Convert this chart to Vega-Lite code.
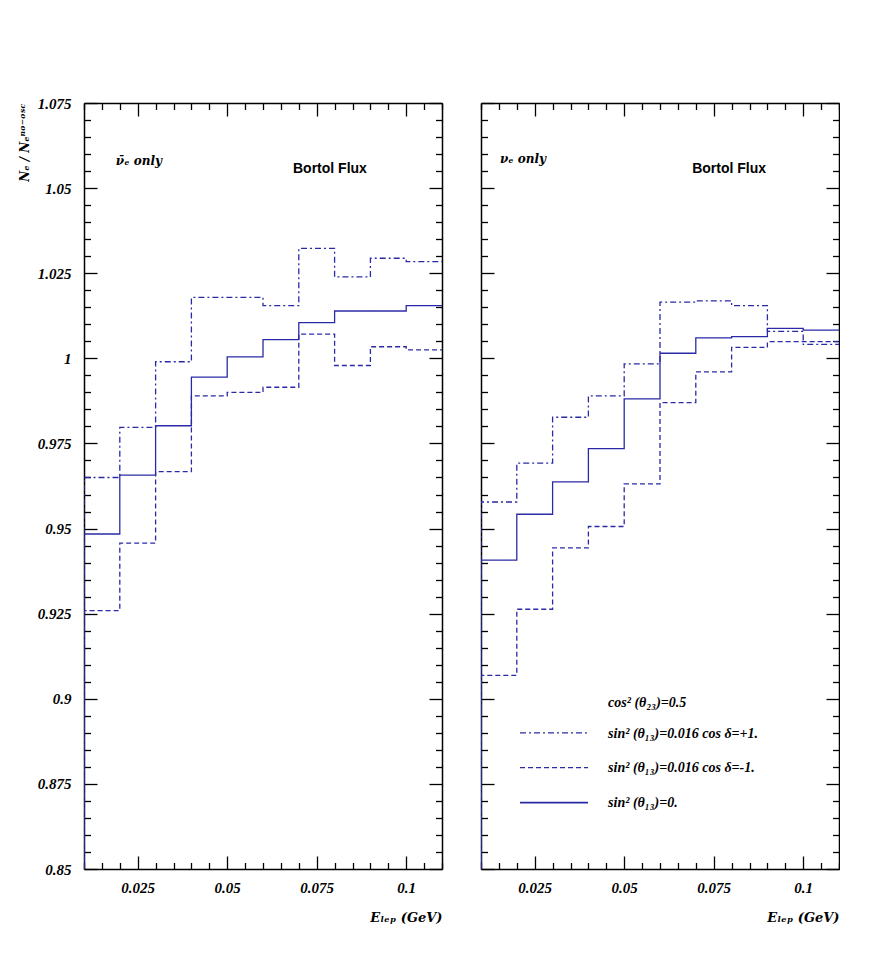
{
  "$schema": "https://vega.github.io/schema/vega-lite/v6.json",
  "background": "white",
  "padding": {"left": 18, "top": 96, "right": 0, "bottom": 0},
  "spacing": 37,
  "config": {
    "view": {"stroke": null},
    "axis": {
      "grid": false,
      "domainColor": "black",
      "domainWidth": 1.5,
      "tickColor": "black",
      "tickWidth": 1.3,
      "labelFont": "Liberation Serif",
      "labelFontStyle": "italic",
      "labelFontWeight": "bold",
      "labelFontSize": 15,
      "labelColor": "black",
      "labelFlush": false,
      "labelOverlap": false,
      "labelBound": false,
      "titleFont": "DejaVu Serif",
      "titleFontStyle": "italic",
      "titleFontWeight": "bold",
      "titleColor": "black"
    }
  },
  "datasets": {
    "hist": [
      {"panel": "anti", "series": "zero", "e": 0.01, "r": 0.85},
      {"panel": "anti", "series": "zero", "e": 0.01, "r": 0.9484},
      {"panel": "anti", "series": "zero", "e": 0.02, "r": 0.9657},
      {"panel": "anti", "series": "zero", "e": 0.03, "r": 0.9802},
      {"panel": "anti", "series": "zero", "e": 0.04, "r": 0.9945},
      {"panel": "anti", "series": "zero", "e": 0.05, "r": 1.0004},
      {"panel": "anti", "series": "zero", "e": 0.06, "r": 1.0055},
      {"panel": "anti", "series": "zero", "e": 0.07, "r": 1.0105},
      {"panel": "anti", "series": "zero", "e": 0.08, "r": 1.0139},
      {"panel": "anti", "series": "zero", "e": 0.09, "r": 1.0139},
      {"panel": "anti", "series": "zero", "e": 0.10, "r": 1.0155},
      {"panel": "anti", "series": "zero", "e": 0.11, "r": 1.0155},
      {"panel": "anti", "series": "plus", "e": 0.01, "r": 0.85},
      {"panel": "anti", "series": "plus", "e": 0.01, "r": 0.9650},
      {"panel": "anti", "series": "plus", "e": 0.02, "r": 0.9797},
      {"panel": "anti", "series": "plus", "e": 0.03, "r": 0.9990},
      {"panel": "anti", "series": "plus", "e": 0.04, "r": 1.0179},
      {"panel": "anti", "series": "plus", "e": 0.05, "r": 1.0179},
      {"panel": "anti", "series": "plus", "e": 0.06, "r": 1.0155},
      {"panel": "anti", "series": "plus", "e": 0.07, "r": 1.0323},
      {"panel": "anti", "series": "plus", "e": 0.08, "r": 1.0239},
      {"panel": "anti", "series": "plus", "e": 0.09, "r": 1.0294},
      {"panel": "anti", "series": "plus", "e": 0.10, "r": 1.0284},
      {"panel": "anti", "series": "plus", "e": 0.11, "r": 1.0284},
      {"panel": "anti", "series": "minus", "e": 0.01, "r": 0.85},
      {"panel": "anti", "series": "minus", "e": 0.01, "r": 0.9259},
      {"panel": "anti", "series": "minus", "e": 0.02, "r": 0.9457},
      {"panel": "anti", "series": "minus", "e": 0.03, "r": 0.9667},
      {"panel": "anti", "series": "minus", "e": 0.04, "r": 0.9890},
      {"panel": "anti", "series": "minus", "e": 0.05, "r": 0.9900},
      {"panel": "anti", "series": "minus", "e": 0.06, "r": 0.9915},
      {"panel": "anti", "series": "minus", "e": 0.07, "r": 1.0071},
      {"panel": "anti", "series": "minus", "e": 0.08, "r": 0.9979},
      {"panel": "anti", "series": "minus", "e": 0.09, "r": 1.0034},
      {"panel": "anti", "series": "minus", "e": 0.10, "r": 1.0025},
      {"panel": "anti", "series": "minus", "e": 0.11, "r": 1.0025},
      {"panel": "nu", "series": "zero", "e": 0.01, "r": 0.85},
      {"panel": "nu", "series": "zero", "e": 0.01, "r": 0.9407},
      {"panel": "nu", "series": "zero", "e": 0.02, "r": 0.9542},
      {"panel": "nu", "series": "zero", "e": 0.03, "r": 0.9637},
      {"panel": "nu", "series": "zero", "e": 0.04, "r": 0.9735},
      {"panel": "nu", "series": "zero", "e": 0.05, "r": 0.9881},
      {"panel": "nu", "series": "zero", "e": 0.06, "r": 1.0015},
      {"panel": "nu", "series": "zero", "e": 0.07, "r": 1.0060},
      {"panel": "nu", "series": "zero", "e": 0.08, "r": 1.0064},
      {"panel": "nu", "series": "zero", "e": 0.09, "r": 1.0088},
      {"panel": "nu", "series": "zero", "e": 0.10, "r": 1.0083},
      {"panel": "nu", "series": "zero", "e": 0.11, "r": 1.0083},
      {"panel": "nu", "series": "plus", "e": 0.01, "r": 0.85},
      {"panel": "nu", "series": "plus", "e": 0.01, "r": 0.9578},
      {"panel": "nu", "series": "plus", "e": 0.02, "r": 0.9692},
      {"panel": "nu", "series": "plus", "e": 0.03, "r": 0.9827},
      {"panel": "nu", "series": "plus", "e": 0.04, "r": 0.9890},
      {"panel": "nu", "series": "plus", "e": 0.05, "r": 0.9984},
      {"panel": "nu", "series": "plus", "e": 0.06, "r": 1.0165},
      {"panel": "nu", "series": "plus", "e": 0.07, "r": 1.0169},
      {"panel": "nu", "series": "plus", "e": 0.08, "r": 1.0155},
      {"panel": "nu", "series": "plus", "e": 0.09, "r": 1.0079},
      {"panel": "nu", "series": "plus", "e": 0.10, "r": 1.0041},
      {"panel": "nu", "series": "plus", "e": 0.11, "r": 1.0041},
      {"panel": "nu", "series": "minus", "e": 0.01, "r": 0.85},
      {"panel": "nu", "series": "minus", "e": 0.01, "r": 0.9069},
      {"panel": "nu", "series": "minus", "e": 0.02, "r": 0.9263},
      {"panel": "nu", "series": "minus", "e": 0.03, "r": 0.9443},
      {"panel": "nu", "series": "minus", "e": 0.04, "r": 0.9506},
      {"panel": "nu", "series": "minus", "e": 0.05, "r": 0.9631},
      {"panel": "nu", "series": "minus", "e": 0.06, "r": 0.9870},
      {"panel": "nu", "series": "minus", "e": 0.07, "r": 0.9960},
      {"panel": "nu", "series": "minus", "e": 0.08, "r": 1.0032},
      {"panel": "nu", "series": "minus", "e": 0.09, "r": 1.0049},
      {"panel": "nu", "series": "minus", "e": 0.10, "r": 1.0049},
      {"panel": "nu", "series": "minus", "e": 0.11, "r": 1.0049}
    ]
  },
  "hconcat": [
    {
      "width": 358,
      "height": 766,
      "resolve": {"axis": {"x": "independent", "y": "independent"}},
      "layer": [
        {
          "data": {"name": "hist"},
          "transform": [{"filter": "datum.panel == 'anti'"}],
          "mark": {"type": "line", "interpolate": "step-after", "color": "#2a2aa6", "clip": true},
          "encoding": {
            "x": {
              "field": "e", "type": "quantitative",
              "scale": {"domain": [0.01, 0.11], "nice": false, "zero": false},
              "axis": {
                "orient": "bottom",
                "values": [0.01,0.015,0.02,0.025,0.03,0.035,0.04,0.045,0.05,0.055,0.06,0.065,0.07,0.075,0.08,0.085,0.09,0.095,0.1,0.105,0.11],
                "labelExpr": "round(datum.value*1000) % 25 == 0 ? format(datum.value, '.3~f') : ''",
                "tickSize": {"condition": {"test": "round(datum.value*1000) % 25 == 0", "value": -13}, "value": -6.5},
                "labelPadding": 24,
                "title": "Eₗₑₚ (GeV)",
                "titleAnchor": "end",
                "titlePadding": 10,
                "titleFontSize": 13
              }
            },
            "y": {
              "field": "r", "type": "quantitative",
              "scale": {"domain": [0.85, 1.075], "nice": false, "zero": false},
              "axis": {
                "orient": "left",
                "values": [0.85,0.855,0.86,0.865,0.87,0.875,0.88,0.885,0.89,0.895,0.9,0.905,0.91,0.915,0.92,0.925,0.93,0.935,0.94,0.945,0.95,0.955,0.96,0.965,0.97,0.975,0.98,0.985,0.99,0.995,1,1.005,1.01,1.015,1.02,1.025,1.03,1.035,1.04,1.045,1.05,1.055,1.06,1.065,1.07,1.075],
                "labelExpr": "round(datum.value*1000) % 25 == 0 ? format(datum.value, '.3~f') : ''",
                "tickSize": {"condition": {"test": "round(datum.value*1000) % 25 == 0", "value": -13}, "value": -6.5},
                "labelPadding": 26,
                "title": "Nₑ / Nₑⁿᵒ⁻ᵒˢᶜ",
                "titleAnchor": "end",
                "titleFontSize": 12,
                "titlePadding": 6
              }
            },
            "detail": {"field": "series"},
            "strokeDash": {"field": "series", "type": "nominal", "scale": {"domain": ["plus", "minus", "zero"], "range": [[6, 3, 2, 3], [5, 3], [1, 0]]}, "legend": null},
            "strokeWidth": {"field": "series", "type": "nominal", "scale": {"domain": ["plus", "minus", "zero"], "range": [1.3, 1.3, 1.8]}, "legend": null}
          }
        },
        {
          "data": {"values": [{}]},
          "mark": {"type": "text", "text": "Bortol Flux", "font": "Liberation Sans", "fontWeight": "bold", "fontSize": 14, "align": "center", "baseline": "middle", "color": "black"},
          "encoding": {
            "x": {"datum": 0.0787, "type": "quantitative", "axis": {
              "orient": "top",
              "values": [0.01,0.015,0.02,0.025,0.03,0.035,0.04,0.045,0.05,0.055,0.06,0.065,0.07,0.075,0.08,0.085,0.09,0.095,0.1,0.105,0.11],
              "labels": false, "title": null,
              "tickSize": {"condition": {"test": "round(datum.value*1000) % 25 == 0", "value": -13}, "value": -6.5}
            }},
            "y": {"datum": 1.0556, "type": "quantitative", "axis": {
              "orient": "right",
              "values": [0.85,0.855,0.86,0.865,0.87,0.875,0.88,0.885,0.89,0.895,0.9,0.905,0.91,0.915,0.92,0.925,0.93,0.935,0.94,0.945,0.95,0.955,0.96,0.965,0.97,0.975,0.98,0.985,0.99,0.995,1,1.005,1.01,1.015,1.02,1.025,1.03,1.035,1.04,1.045,1.05,1.055,1.06,1.065,1.07,1.075],
              "labels": false, "title": null,
              "tickSize": {"condition": {"test": "round(datum.value*1000) % 25 == 0", "value": -13}, "value": -6.5}
            }}
          }
        },
        {
          "data": {"values": [{}]},
          "mark": {"type": "text", "text": "ν̄ₑ only", "font": "DejaVu Serif", "fontStyle": "italic", "fontWeight": "bold", "fontSize": 12, "align": "left", "baseline": "middle", "color": "black"},
          "encoding": {
            "x": {"datum": 0.0189, "type": "quantitative", "axis": null},
            "y": {"datum": 1.058, "type": "quantitative", "axis": null}
          }
        }
      ]
    },
    {
      "width": 358,
      "height": 766,
      "resolve": {"axis": {"x": "independent", "y": "independent"}},
      "layer": [
        {
          "data": {"name": "hist"},
          "transform": [{"filter": "datum.panel == 'nu'"}],
          "mark": {"type": "line", "interpolate": "step-after", "color": "#2a2aa6", "clip": true},
          "encoding": {
            "x": {
              "field": "e", "type": "quantitative",
              "scale": {"domain": [0.01, 0.11], "nice": false, "zero": false},
              "axis": {
                "orient": "bottom",
                "values": [0.01,0.015,0.02,0.025,0.03,0.035,0.04,0.045,0.05,0.055,0.06,0.065,0.07,0.075,0.08,0.085,0.09,0.095,0.1,0.105,0.11],
                "labelExpr": "round(datum.value*1000) % 25 == 0 ? format(datum.value, '.3~f') : ''",
                "tickSize": {"condition": {"test": "round(datum.value*1000) % 25 == 0", "value": -13}, "value": -6.5},
                "labelPadding": 24,
                "title": "Eₗₑₚ (GeV)",
                "titleAnchor": "end",
                "titlePadding": 10,
                "titleFontSize": 13
              }
            },
            "y": {
              "field": "r", "type": "quantitative",
              "scale": {"domain": [0.85, 1.075], "nice": false, "zero": false},
              "axis": {
                "orient": "left",
                "values": [0.85,0.855,0.86,0.865,0.87,0.875,0.88,0.885,0.89,0.895,0.9,0.905,0.91,0.915,0.92,0.925,0.93,0.935,0.94,0.945,0.95,0.955,0.96,0.965,0.97,0.975,0.98,0.985,0.99,0.995,1,1.005,1.01,1.015,1.02,1.025,1.03,1.035,1.04,1.045,1.05,1.055,1.06,1.065,1.07,1.075],
                "labels": false,
                "title": null,
                "tickSize": {"condition": {"test": "round(datum.value*1000) % 25 == 0", "value": -13}, "value": -6.5}
              }
            },
            "detail": {"field": "series"},
            "strokeDash": {"field": "series", "type": "nominal", "scale": {"domain": ["plus", "minus", "zero"], "range": [[6, 3, 2, 3], [5, 3], [1, 0]]}, "legend": null},
            "strokeWidth": {"field": "series", "type": "nominal", "scale": {"domain": ["plus", "minus", "zero"], "range": [1.3, 1.3, 1.8]}, "legend": null}
          }
        },
        {
          "data": {"values": [{}]},
          "mark": {"type": "text", "text": "Bortol Flux", "font": "Liberation Sans", "fontWeight": "bold", "fontSize": 14, "align": "center", "baseline": "middle", "color": "black"},
          "encoding": {
            "x": {"datum": 0.0793, "type": "quantitative", "axis": {
              "orient": "top",
              "values": [0.01,0.015,0.02,0.025,0.03,0.035,0.04,0.045,0.05,0.055,0.06,0.065,0.07,0.075,0.08,0.085,0.09,0.095,0.1,0.105,0.11],
              "labels": false, "title": null,
              "tickSize": {"condition": {"test": "round(datum.value*1000) % 25 == 0", "value": -13}, "value": -6.5}
            }},
            "y": {"datum": 1.0556, "type": "quantitative", "axis": {
              "orient": "right",
              "values": [0.85,0.855,0.86,0.865,0.87,0.875,0.88,0.885,0.89,0.895,0.9,0.905,0.91,0.915,0.92,0.925,0.93,0.935,0.94,0.945,0.95,0.955,0.96,0.965,0.97,0.975,0.98,0.985,0.99,0.995,1,1.005,1.01,1.015,1.02,1.025,1.03,1.035,1.04,1.045,1.05,1.055,1.06,1.065,1.07,1.075],
              "labels": false, "title": null,
              "tickSize": {"condition": {"test": "round(datum.value*1000) % 25 == 0", "value": -13}, "value": -6.5}
            }}
          }
        },
        {
          "data": {"values": [{}]},
          "mark": {"type": "text", "text": "νₑ only", "font": "DejaVu Serif", "fontStyle": "italic", "fontWeight": "bold", "fontSize": 12, "align": "left", "baseline": "middle", "color": "black"},
          "encoding": {
            "x": {"datum": 0.0153, "type": "quantitative", "axis": null},
            "y": {"datum": 1.0586, "type": "quantitative", "axis": null}
          }
        },
        {
          "data": {"values": [{}]},
          "mark": {"type": "text", "text": "cos² (θ₂₃)=0.5", "font": "Liberation Serif", "fontStyle": "italic", "fontWeight": "bold", "fontSize": 14, "align": "left", "baseline": "middle", "color": "black"},
          "encoding": {
            "x": {"datum": 0.0455, "type": "quantitative", "axis": null},
            "y": {"datum": 0.8989, "type": "quantitative", "axis": null}
          }
        },
        {
          "data": {"values": [{}]},
          "mark": {"type": "text", "text": "sin² (θ₁₃)=0.016 cos δ=+1.", "font": "Liberation Serif", "fontStyle": "italic", "fontWeight": "bold", "fontSize": 14, "align": "left", "baseline": "middle", "color": "black"},
          "encoding": {
            "x": {"datum": 0.0455, "type": "quantitative", "axis": null},
            "y": {"datum": 0.8898, "type": "quantitative", "axis": null}
          }
        },
        {
          "data": {"values": [{}]},
          "mark": {"type": "text", "text": "sin² (θ₁₃)=0.016 cos δ=-1.", "font": "Liberation Serif", "fontStyle": "italic", "fontWeight": "bold", "fontSize": 14, "align": "left", "baseline": "middle", "color": "black"},
          "encoding": {
            "x": {"datum": 0.0455, "type": "quantitative", "axis": null},
            "y": {"datum": 0.8796, "type": "quantitative", "axis": null}
          }
        },
        {
          "data": {"values": [{}]},
          "mark": {"type": "text", "text": "sin² (θ₁₃)=0.", "font": "Liberation Serif", "fontStyle": "italic", "fontWeight": "bold", "fontSize": 14, "align": "left", "baseline": "middle", "color": "black"},
          "encoding": {
            "x": {"datum": 0.0455, "type": "quantitative", "axis": null},
            "y": {"datum": 0.8695, "type": "quantitative", "axis": null}
          }
        },
        {
          "data": {"values": [{}]},
          "mark": {"type": "rule", "color": "#2a2aa6", "strokeWidth": 1.3, "strokeDash": [6, 3, 2, 3]},
          "encoding": {
            "x": {"datum": 0.0209, "type": "quantitative", "axis": null},
            "x2": {"datum": 0.0399},
            "y": {"datum": 0.8900, "type": "quantitative", "axis": null}
          }
        },
        {
          "data": {"values": [{}]},
          "mark": {"type": "rule", "color": "#2a2aa6", "strokeWidth": 1.3, "strokeDash": [5, 3]},
          "encoding": {
            "x": {"datum": 0.0209, "type": "quantitative", "axis": null},
            "x2": {"datum": 0.0399},
            "y": {"datum": 0.8798, "type": "quantitative", "axis": null}
          }
        },
        {
          "data": {"values": [{}]},
          "mark": {"type": "rule", "color": "#2a2aa6", "strokeWidth": 1.8},
          "encoding": {
            "x": {"datum": 0.0209, "type": "quantitative", "axis": null},
            "x2": {"datum": 0.0399},
            "y": {"datum": 0.8695, "type": "quantitative", "axis": null}
          }
        }
      ]
    }
  ]
}
